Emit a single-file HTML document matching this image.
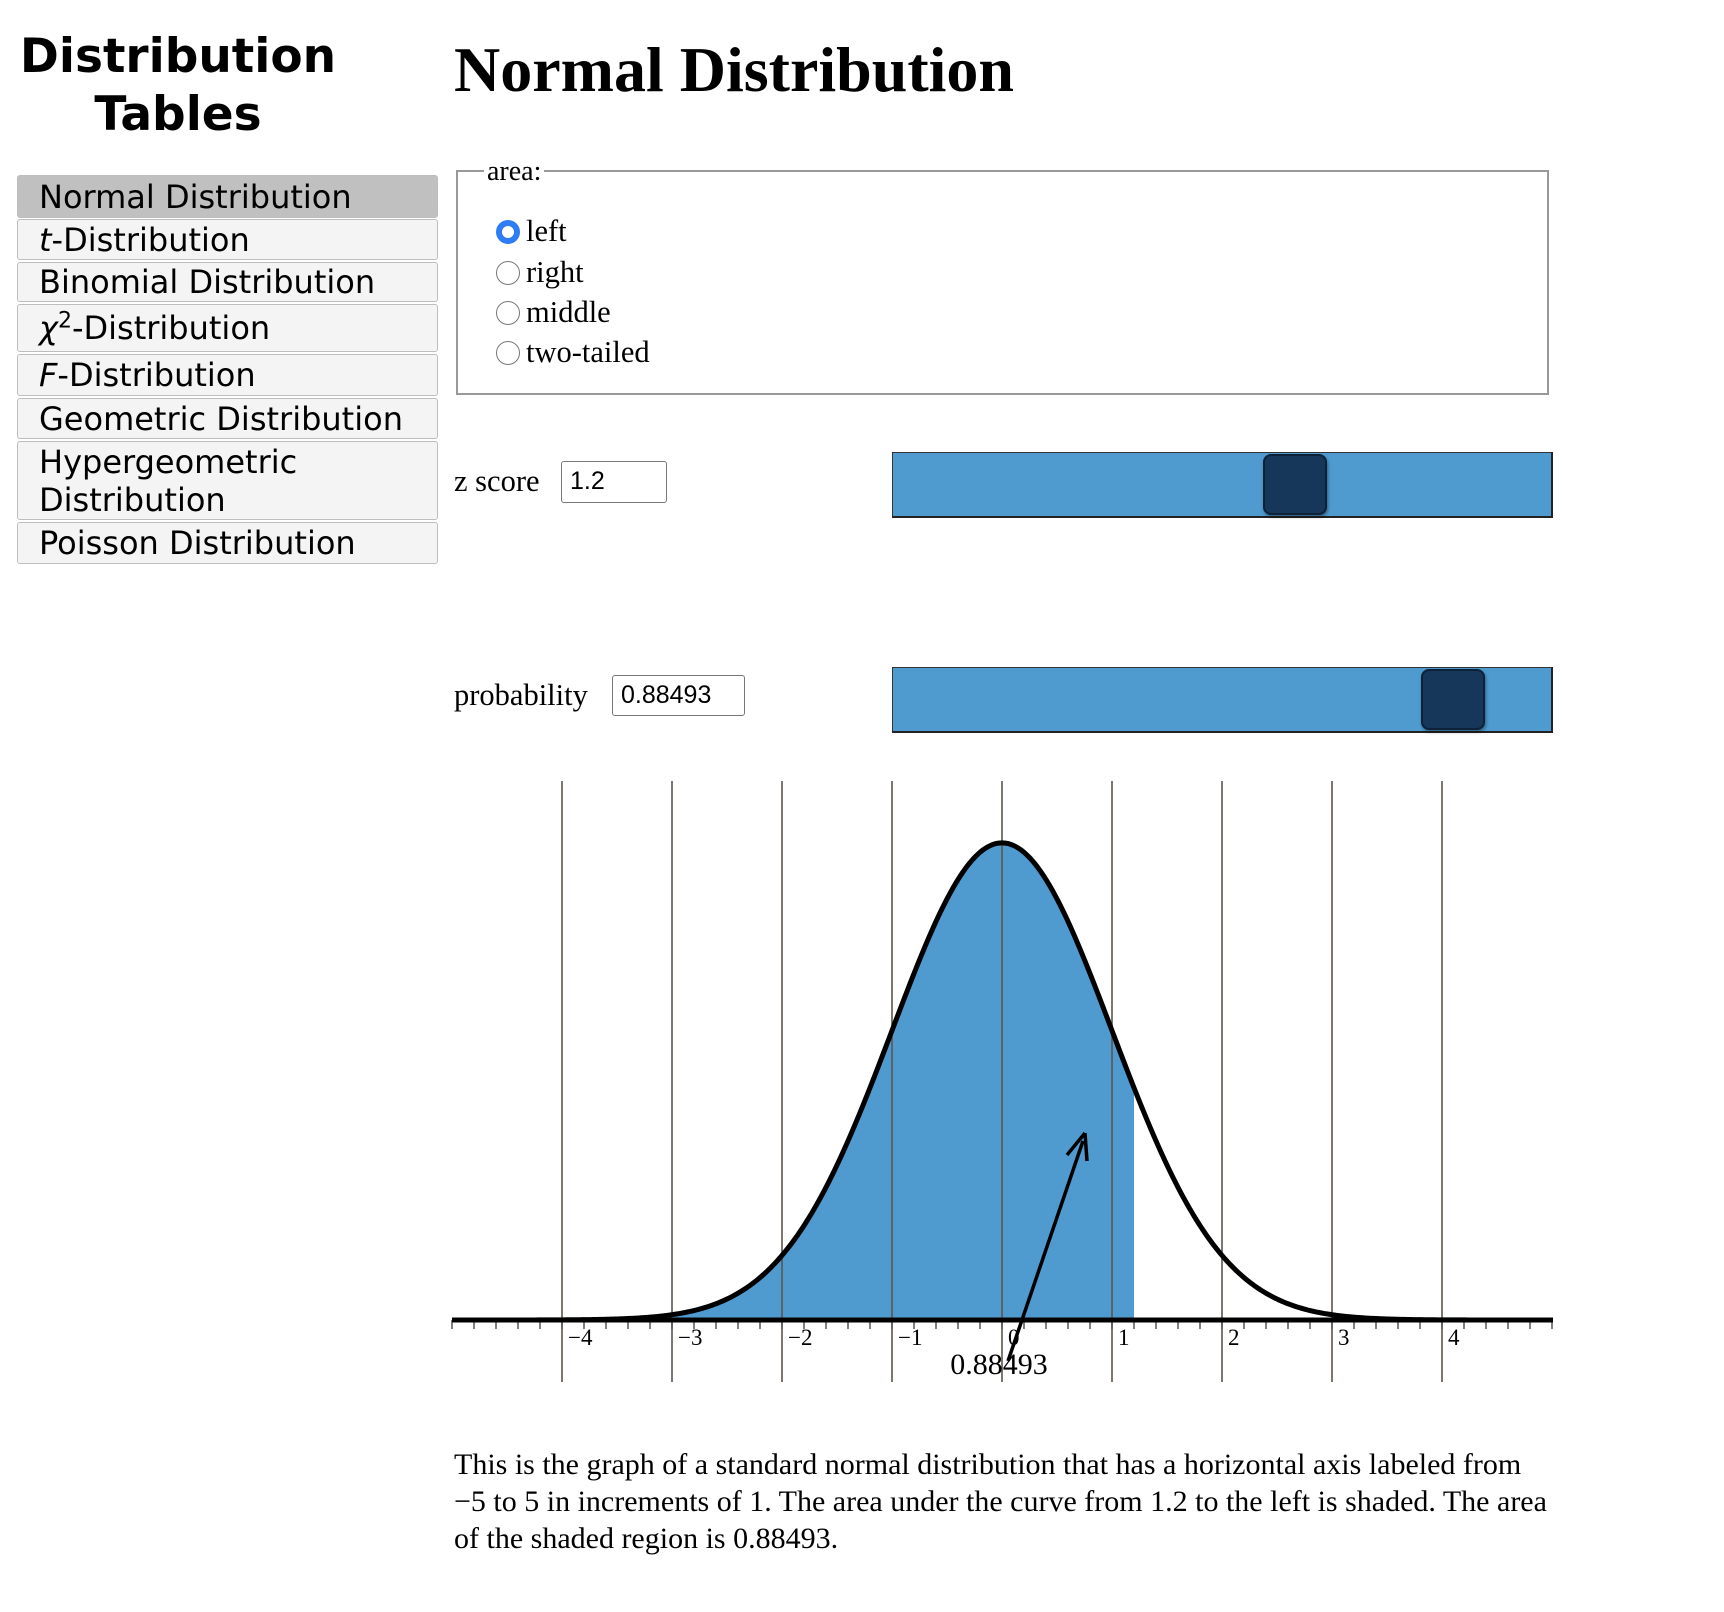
<!DOCTYPE html>
<html><head><meta charset="utf-8"><style>
body{margin:0;width:1724px;height:1612px;background:#fff;position:relative;font-family:"Liberation Serif",serif;color:#000;overflow:hidden}
.abs{position:absolute}
.side-title{left:0;top:28px;width:356px;text-align:center;font-family:"DejaVu Sans",sans-serif;font-weight:bold;font-size:47px;line-height:58px}
.nav{left:17px;width:421px;background:#f4f4f4;border:1px solid #bdbdbd;border-radius:3px;font-family:"DejaVu Sans",sans-serif;font-size:32px;padding-left:21px;box-sizing:border-box;line-height:38px;display:flex;align-items:center}
.nav.sel{background:#c0c0c0}
.radio{width:24px;height:24px;border:1.5px solid #777;border-radius:50%;box-sizing:border-box;background:#fff}
.lbl{font-size:30.5px}
.inp{border:1.5px solid #777;border-radius:3px;font-family:"Liberation Sans",sans-serif;font-size:25px;padding-left:8px;box-sizing:border-box;line-height:38px}
.slider{background:#4f9bd0;border:1px solid #333;border-right:2px solid #222;border-bottom:2px solid #222;box-sizing:border-box}
.thumb{background:#16375a;border:2px solid #0d2238;border-radius:8px;box-sizing:border-box;box-shadow:1px 2px 3px rgba(0,0,0,.4)}
</style></head><body>
<div class="abs side-title">Distribution<br>Tables</div>
<div class="abs nav sel" style="top:175px;height:43px">Normal Distribution</div>
<div class="abs nav" style="top:219px;height:41px"><i>t</i>-Distribution</div>
<div class="abs nav" style="top:262px;height:40px">Binomial Distribution</div>
<div class="abs nav" style="top:304px;height:48px"><span><i>χ</i><sup style="font-size:22px;line-height:0">2</sup>-Distribution</span></div>
<div class="abs nav" style="top:354px;height:42px"><i>F</i>-Distribution</div>
<div class="abs nav" style="top:398px;height:41px">Geometric Distribution</div>
<div class="abs nav" style="top:441px;height:79px">Hypergeometric<br>Distribution</div>
<div class="abs nav" style="top:522px;height:42px">Poisson Distribution</div>

<div class="abs" style="left:454px;top:33px;font-size:64px;font-weight:bold">Normal Distribution</div>

<div class="abs" style="left:456px;top:170px;width:1093px;height:225px;border:2px solid #999;box-sizing:border-box"></div>
<div class="abs" style="left:484px;top:156px;background:#fff;padding:0 3px;font-size:28px">area:</div>
<div class="abs radio" style="left:496px;top:220px;border:6px solid #2f7df6"></div>
<div class="abs lbl" style="left:526px;top:214px">left</div>
<div class="abs radio" style="left:496px;top:261px"></div>
<div class="abs lbl" style="left:526px;top:255px">right</div>
<div class="abs radio" style="left:496px;top:301px"></div>
<div class="abs lbl" style="left:526px;top:295px">middle</div>
<div class="abs radio" style="left:496px;top:341px"></div>
<div class="abs lbl" style="left:526px;top:335px">two-tailed</div>

<div class="abs lbl" style="left:454px;top:464px">z score</div>
<div class="abs inp" style="left:561px;top:461px;width:106px;height:42px">1.2</div>
<div class="abs slider" style="left:892px;top:452px;width:661px;height:66px"></div>
<div class="abs thumb" style="left:1263px;top:454px;width:64px;height:61px"></div>

<div class="abs lbl" style="left:454px;top:678px">probability</div>
<div class="abs inp" style="left:612px;top:675px;width:133px;height:41px">0.88493</div>
<div class="abs slider" style="left:892px;top:667px;width:661px;height:66px"></div>
<div class="abs thumb" style="left:1421px;top:669px;width:64px;height:61px"></div>

<svg class="abs" style="left:0;top:0" width="1724" height="1612" id="chart"></svg>

<div class="abs" style="left:454px;top:1446px;width:1100px;font-size:30px;line-height:37px">This is the graph of a standard normal distribution that has a horizontal axis labeled from −5 to 5 in increments of 1. The area under the curve from 1.2 to the left is shaded. The area of the shaded region is 0.88493.</div>

<script>
const tickValues=[-4,-3,-2,-1,0,1,2,3,4];
const tickLabels=["−4","−3","−2","−1","0","1","2","3","4"];
const zScore=[1.2];
const areaValue=["0.88493"];
const xDomain=[-5,5];
const NS="http://www.w3.org/2000/svg";
const svg=document.getElementById('chart');
const AXY=1320;
const X=v=>1002+110*v;
const Y=d=>AXY-1196*d;
const pdf=x=>Math.exp(-x*x/2)/Math.sqrt(2*Math.PI);
function mk(t,a){const e=document.createElementNS(NS,t);for(const k in a)e.setAttribute(k,a[k]);svg.appendChild(e);return e;}
let d=`M${X(xDomain[0])},${Y(0)}`;
for(let x=xDomain[0];x<=zScore[0]+1e-9;x+=0.02)d+=` L${X(x)},${Y(pdf(x))}`;
d+=` L${X(zScore[0])},${Y(pdf(zScore[0]))} L${X(zScore[0])},${Y(0)} Z`;
let sh=mk('path',{d:d,fill:'#4f9bd0'});


tickValues.forEach(v=>{
 const l=mk('line',{x1:X(v),x2:X(v),y1:781,y2:1382,stroke:'#5d554c','stroke-width':1.6});
 
 
});
for(let i=-25;i<=25;i++){
 const v=i/5;
 const t=mk('line',{x1:X(v),x2:X(v),y1:AXY,y2:AXY+9,stroke:'#555','stroke-width':1.5});
 
 
}
const ax=mk('line',{x1:454,x2:1553,y1:AXY,y2:AXY,stroke:'#000','stroke-width':5});


let c=`M${X(xDomain[0])},${Y(pdf(xDomain[0]))}`;
for(let x=xDomain[0];x<=xDomain[1]+1e-9;x+=0.02)c+=` L${X(x)},${Y(pdf(x))}`;
const cv=mk('path',{d:c,fill:'none',stroke:'#000','stroke-width':5});


tickValues.forEach((v,i)=>{
 const t=mk('text',{x:X(v)+6,y:AXY+25,'font-family':'Liberation Serif, serif','font-size':23});
 t.textContent=tickLabels[i];
 
 
});
const a1=mk('line',{x1:1008,y1:1361,x2:1083,y2:1141,stroke:'#000','stroke-width':3.5});


const ah=mk('path',{d:'M1085,1133 L1067,1155 M1085,1133 L1087,1161',stroke:'#000','stroke-width':3.5,fill:'none'});


const al=mk('text',{x:999,y:1374,'text-anchor':'middle','font-family':'Liberation Serif, serif','font-size':30});
al.textContent=areaValue[0];


</script>
</body></html>
